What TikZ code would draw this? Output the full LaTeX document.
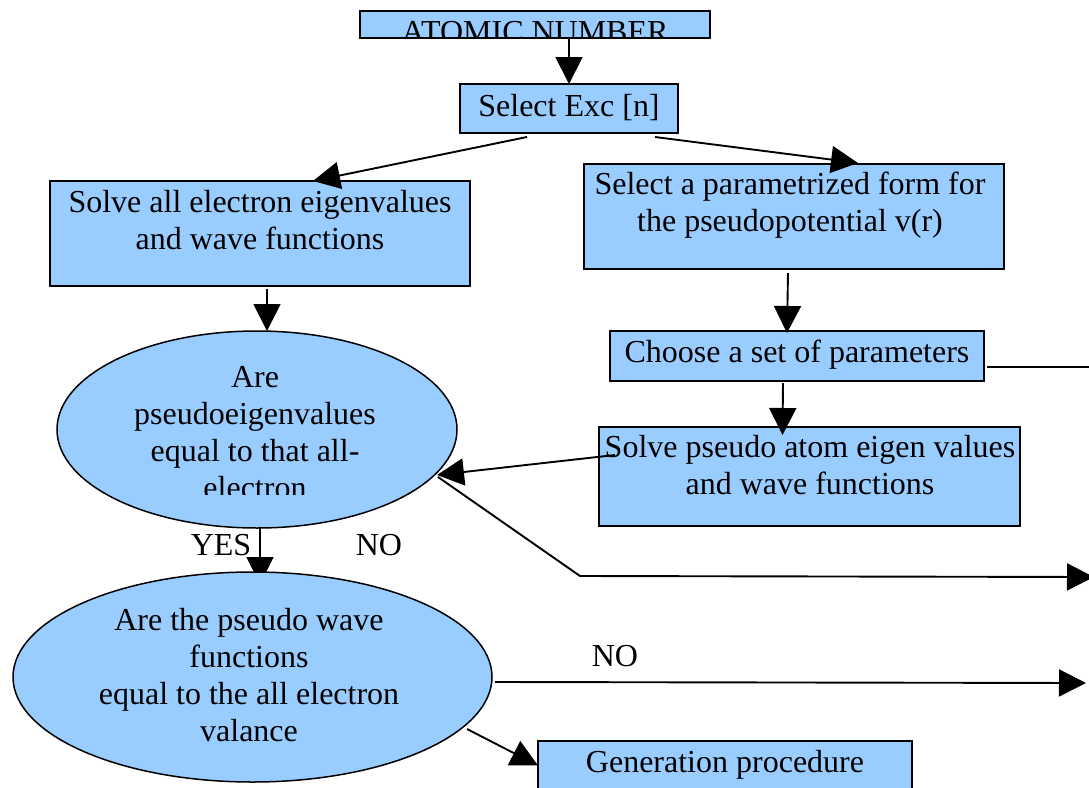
\documentclass[tikz,border=0pt]{standalone}
\usepackage{fontspec}
\setmainfont{Liberation Serif}
\usetikzlibrary{shapes.geometric,arrows.meta,calc}
\definecolor{boxblue}{HTML}{99CCFF}
\begin{document}
\begin{tikzpicture}[x=0.5pt,y=-0.5pt,
  box/.style={draw=black, line width=1.1pt, fill=boxblue, rectangle, inner sep=0pt, outer sep=0pt},
  oval/.style={draw=black, line width=0.75pt, fill=boxblue, ellipse, inner sep=0pt, outer sep=0pt},
  txt/.style={inner sep=0pt, outer sep=0pt, align=center, anchor=base, font=\fontsize{16}{18.35}\selectfont},
  conn/.style={draw=black, line width=0.95pt},
  arr/.style={conn, -{Triangle[length=13.5pt,width=13.5pt]}}]
\useasboundingbox (0,0) rectangle (1089,788);
\clip (0,0) rectangle (1089,788);

% boxes (text anchors give the baseline of the last line)
\node[box, minimum width=175pt, minimum height=13.5pt] (atomic) at (535,24.5) {};
\begin{scope}
  \clip (361,12) rectangle (709,37);
  \node[txt] (tatomic) at (535,42) {ATOMIC NUMBER};
\end{scope}
\node[box, minimum width=109pt, minimum height=24.5pt] (selexc) at (569,108.5) {};
\node[txt] (tselexc) at (569,116.5) {Select Exc [n]};
\node[box, minimum width=210pt, minimum height=52.5pt] (solveall) at (260,233.5) {};
\node[txt] (tsolveall) at (260,249.5) {Solve all electron eigenvalues\\and wave functions};
\node[box, minimum width=210pt, minimum height=52.5pt] (selparam) at (794,216.5) {};
\node[txt] (tselparam) at (790,231.5) {Select a parametrized form for\\the pseudopotential v(r)};
\node[box, minimum width=187pt, minimum height=25pt] (choose) at (797,356) {};
\node[txt] (tchoose) at (797,362) {Choose a set of parameters};
\node[box, minimum width=210.5pt, minimum height=49.5pt] (solvepseudo) at (809.5,476.5) {};
\node[txt] (tsolvepseudo) at (810,494) {Solve pseudo atom eigen values\\and wave functions};
\node[box, minimum width=187pt, minimum height=24.5pt] (gen) at (725,765.5) {};
\node[txt] (tgen) at (725,772) {Generation procedure};

% first decision
\node[oval, minimum width=200pt, minimum height=98.5pt] (q1) at (257,429.5) {};
\begin{scope}
  \clip (60,335) rectangle (455,494);
  \node[txt] (tq1) at (255,498) {Are\\pseudoeigenvalues\\equal to that all-\\electron};
\end{scope}

% labels
\node[txt] (yes) at (221,555) {YES};
\node[txt] (no1) at (379,555) {NO};
\node[txt] (no2) at (615,666) {NO};

% free ends
\coordinate (rightA) at (1095,367);
\coordinate (bend) at (580,576);
\coordinate (rightB) at (1094,577);
\coordinate (yesend) at (260,584);
\coordinate (rightC) at (1086,683);

% connectors
\draw[arr] (atomic.south -| selexc.north) -- (selexc.north);
\draw[arr] ($(selexc.south)+(-42,4)$) -- ($(solveall.north)+(53,0)$);
\draw[arr] ($(selexc.south)+(86,4)$) -- ($(selparam.north)+(64,-1)$);
\draw[arr] ($(solveall.south)+(7,3)$) -- ($(q1.north)+(10,0)$);
\draw[arr] ($(selparam.south)+(-6,4)$) -- ($(choose.north)+(-10,2)$);
\draw[conn] ($(choose.east)+(3,11)$) -- (rightA);
\draw[arr] ($(choose.south)+(-14,2)$) -- ($(solvepseudo.north)+(-27,8)$);
\draw[arr] ($(solvepseudo.west)+(16,-21.5)$) -- ($(q1.center)+(180,45.5)$);
\draw[arr] ($(q1.center)+(181,47.5)$) -- (bend) -- (rightB);
\draw[arr] ($(q1.south)+(3,0)$) -- (yesend);

% second decision
\node[oval, minimum width=239.5pt, minimum height=105pt] (q2) at (252.5,677) {};
\node[txt] (tq2) at (249,741) {Are the pseudo wave\\functions\\equal to the all electron\\valance};

\draw[arr] ($(q2.east)+(3,5)$) -- (rightC);
\draw[arr] ($(q2.center)+(214.5,52)$) -- (gen.west);
\end{tikzpicture}
\end{document}
